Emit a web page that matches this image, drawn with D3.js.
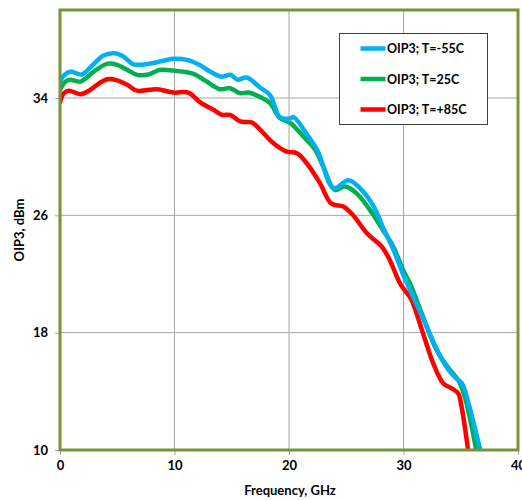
<!DOCTYPE html>
<html>
<head>
<meta charset="utf-8">
<script src="https://cdn.jsdelivr.net/npm/d3@7/dist/d3.min.js"></script>
<style>
  html, body { margin: 0; padding: 0; background: #fff; }
  svg { display: block; }
  text { font-family: Lato, "Open Sans", "Liberation Sans", sans-serif; font-weight: bold; fill: #000; }
</style>
</head>
<body>
<svg id="chart" width="522" height="500"></svg>
<script>
// Frequency sweep (GHz) and OIP3 (dBm) per temperature
const freqCold = [0, 0.3, 0.9, 1.9, 2.8, 3.8, 4.8, 5.6, 6.4, 7.9, 8.8, 9.9, 11.1, 12.2, 13.1, 14.1, 14.9, 15.5, 16.3, 17.5, 18.35, 19.2, 20.1, 20.4, 21.5, 22.5, 23.9, 25.2, 26.2, 27.4, 28.2, 29.1, 30.0, 31.4, 32.3, 33.2, 34.0, 34.6, 35.1, 35.6, 36.7];
const oip3Cold = [35.1, 35.5, 35.8, 35.6, 36.2, 36.9, 37.05, 36.8, 36.3, 36.35, 36.5, 36.67, 36.6, 36.25, 35.8, 35.45, 35.58, 35.25, 35.4, 34.7, 34.2, 32.7, 32.6, 32.7, 31.6, 30.4, 27.85, 28.4, 27.85, 26.6, 25.2, 23.7, 21.9, 19.5, 17.9, 16.4, 15.4, 14.9, 14.55, 13.4, 10];

const freqRoom = [0, 0.48, 0.9, 1.8, 2.95, 4.1, 5.0, 5.86, 6.73, 7.6, 8.76, 9.9, 11.67, 12.8, 14.0, 14.86, 15.7, 16.46, 17.5, 18.35, 19.2, 20.1, 21.26, 22.3, 23.0, 24.0, 24.9, 25.9, 27.07, 28.2, 29.1, 30.0, 30.56, 31.7, 32.9, 34.05, 34.77, 35.35, 36.35];
const oip3Room = [34.55, 35.12, 35.24, 35.12, 35.8, 36.33, 36.26, 35.92, 35.58, 35.58, 35.92, 35.87, 35.65, 35.12, 34.6, 34.67, 34.33, 34.37, 34.06, 33.65, 32.63, 32.3, 31.37, 30.46, 29.3, 27.74, 27.96, 27.5, 26.37, 25.0, 23.87, 22.2, 21.37, 19.1, 16.8, 15.46, 14.78, 13.64, 10];

const freqHot = [0, 0.33, 0.77, 1.8, 2.66, 3.53, 4.25, 5.0, 5.86, 6.73, 8.47, 9.9, 11.2, 12.25, 13.4, 14.14, 14.86, 15.74, 16.76, 17.5, 18.64, 19.8, 20.7, 21.55, 22.7, 23.7, 24.74, 25.6, 26.8, 28.1, 28.8, 29.68, 30.1, 30.7, 31.7, 32.6, 33.46, 34.2, 34.77, 35.07, 35.64];
const oip3Hot = [33.7, 34.33, 34.5, 34.26, 34.56, 35.06, 35.29, 35.2, 34.9, 34.5, 34.6, 34.37, 34.37, 33.7, 33.2, 32.85, 32.85, 32.4, 32.33, 31.83, 30.92, 30.35, 30.24, 29.55, 28.2, 26.8, 26.6, 26.0, 24.78, 23.87, 22.96, 21.37, 20.9, 20.23, 17.96, 15.9, 14.55, 14.2, 13.87, 12.95, 10];

const seriesNames = ["OIP3; T=-55C", "OIP3; T=25C", "OIP3; T=+85C"];
const seriesColors = ["#00B0F0", "#00B050", "#FF0000"];

const xTicks = [0, 10, 20, 30, 40];
const yTicks = [10, 18, 26, 34];
const xDomain = [0, 40];
const yDomain = [10, 40];
const xTitle = "Frequency, GHz";
const yTitle = "OIP3, dBm";

const series = [
  { name: seriesNames[0], color: seriesColors[0], x: freqCold, y: oip3Cold },
  { name: seriesNames[1], color: seriesColors[1], x: freqRoom, y: oip3Room },
  { name: seriesNames[2], color: seriesColors[2], x: freqHot,  y: oip3Hot }
];

const svg = d3.select("#chart");
const plot = { left: 60, top: 10, right: 518, bottom: 450 };

const x = d3.scaleLinear().domain(xDomain).range([plot.left, plot.right]);
const y = d3.scaleLinear().domain(yDomain).range([plot.bottom, plot.top]);

// grid lines
const grid = svg.append("g");
grid.selectAll("line.vx").data(xTicks.filter(t => t > xDomain[0] && t < xDomain[1]))
  .join("line")
  .attr("x1", d => x(d)).attr("x2", d => x(d))
  .attr("y1", plot.top).attr("y2", plot.bottom)
  .attr("stroke", "#A6A6A6").attr("stroke-width", 1);
grid.selectAll("line.hy").data(yTicks.filter(t => t > yDomain[0] && t < yDomain[1]))
  .join("line")
  .attr("x1", plot.left).attr("x2", plot.right)
  .attr("y1", d => y(d)).attr("y2", d => y(d))
  .attr("stroke", "#A6A6A6").attr("stroke-width", 1);

// axes
const xAxis = d3.axisBottom(x).tickValues(xTicks).tickSize(5).tickPadding(6);
const yAxis = d3.axisLeft(y).tickValues(yTicks).tickSize(5).tickPadding(7);

const gx = svg.append("g").attr("transform", `translate(0,${plot.bottom})`).call(xAxis);
const gy = svg.append("g").attr("transform", `translate(${plot.left},0)`).call(yAxis);
[gx, gy].forEach(g => {
  g.select(".domain").remove();
  g.selectAll(".tick line").attr("stroke", "#A6A6A6");
  g.selectAll(".tick text").style("font-size", "13px").style("font-family", "Lato, 'Open Sans', sans-serif").style("font-weight", "bold").attr("fill", "#000");
});

// series lines
svg.append("clipPath").attr("id", "plot-clip")
  .append("rect")
  .attr("x", plot.left).attr("y", plot.top)
  .attr("width", plot.right - plot.left).attr("height", plot.bottom - plot.top);

const line = d3.line()
  .x(d => x(d[0]))
  .y(d => y(d[1]))
  .curve(d3.curveCatmullRom.alpha(0.5));

svg.append("g").attr("clip-path", "url(#plot-clip)")
  .selectAll("path")
  .data(series.slice().reverse())
  .join("path")
  .attr("d", s => line(s.x.map((v, i) => [v, s.y[i]])))
  .attr("fill", "none")
  .attr("stroke", s => s.color)
  .attr("stroke-width", 4.5)
  .attr("stroke-linejoin", "round")
  .attr("stroke-linecap", "round");

// plot frame
svg.append("rect")
  .attr("x", plot.left).attr("y", plot.top)
  .attr("width", plot.right - plot.left).attr("height", plot.bottom - plot.top)
  .attr("fill", "none").attr("stroke", "#77933C").attr("stroke-width", 3);

// axis titles
svg.append("text")
  .attr("x", (plot.left + plot.right) / 2 + 1)
  .attr("y", 495)
  .attr("text-anchor", "middle")
  .style("font-size", "13px")
  .text(xTitle);

svg.append("text")
  .attr("transform", `translate(24,${(plot.top + plot.bottom) / 2}) rotate(-90)`)
  .attr("text-anchor", "middle")
  .style("font-size", "13px")
  .text(yTitle);

// legend
const legend = svg.append("g").attr("transform", "translate(339.5,33.5)");
legend.append("rect")
  .attr("width", 148).attr("height", 91)
  .attr("fill", "#fff").attr("stroke", "#404040").attr("stroke-width", 1);
const item = legend.selectAll("g.item").data(series).join("g")
  .attr("transform", (d, i) => `translate(0,${15 + i * 30.5})`);
item.append("line")
  .attr("x1", 21).attr("x2", 46).attr("y1", 0).attr("y2", 0)
  .attr("stroke", d => d.color).attr("stroke-width", 4.5);
item.append("text")
  .attr("x", 47.5).attr("y", 4.5)
  .style("font-size", "12.5px")
  .text(d => d.name);
</script>
</body>
</html>
